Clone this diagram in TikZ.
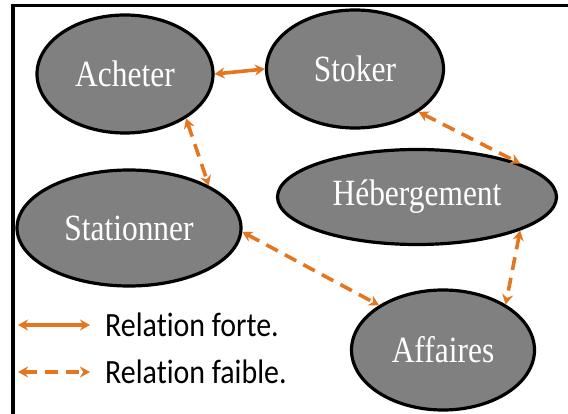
\documentclass[tikz,border=0pt]{standalone}
\usepackage{fontspec}
\setmainfont{Liberation Serif}
\newfontfamily\legfont[Ligatures=NoCommon]{Carlito}
\usetikzlibrary{shapes.geometric, arrows.meta, positioning}
\definecolor{relorange}{RGB}{228,118,32}
\definecolor{actgray}{RGB}{128,128,128}
\newcommand{\actlabel}[1]{\scalebox{0.85}[1]{#1}}
\newcommand{\leglabel}[1]{\scalebox{0.88}[1]{#1}}

\begin{document}
\begin{tikzpicture}[x=1pt, y=-1pt, >={Stealth[length=10pt,width=11pt]},
    act/.style={ellipse, draw=black, line width=3.2pt, fill=actgray, inner sep=0pt,
                text=white, font=\fontsize{37}{37}\selectfont},
    forte/.style={<->, draw=relorange, line width=3.6pt},
    faible/.style={forte, dash pattern=on 13pt off 8pt},
    legtext/.style={anchor=west, inner sep=0pt, font=\legfont\fontsize{34}{34}\selectfont}]
    \useasboundingbox (0,0) rectangle (568,414);
    % cadre
    \draw[line width=3.5pt] (13,414) -- (13,5.5) -- (568,5.5);

    \node[act, minimum width=176pt, minimum height=118pt] (ach) at (125,74) {\actlabel{Acheter}};
    \node[act, minimum width=177pt, minimum height=118pt] (sto) at (355,69) {\actlabel{Stoker}};
    \node[act, minimum width=279pt, minimum height=95pt] (heb) at (417,197) {\actlabel{Hébergement}};
    \node[act, minimum width=224pt, minimum height=116pt] (sta) at (129,228) {\actlabel{Stationner}};
    \node[act, minimum width=183pt, minimum height=120pt] (aff) at (443,350) {\actlabel{Affaires}};

    \draw[forte] (ach.east) -- (sto.west);
    \draw[faible] (ach.-36) -- (sta.28);
    \draw[faible] (sto.-34) -- (heb.18);
    \draw[faible] (sta.-2) -- (aff.145);
    \draw[faible] (heb.-18) -- (aff.36);

    % legende
    \coordinate (lf1) at (18,325);
    \coordinate (lf2) at (90,325);
    \coordinate (lw1) at (18,372);
    \coordinate (lw2) at (90,372);
    \draw[forte] (lf1) -- (lf2);
    \draw[faible] (lw1) -- (lw2);
    \node[legtext] (lfort) at (105,325) {\leglabel{Relation forte.}};
    \node[legtext] (lfaib) at (105,372) {\leglabel{Relation faible.}};
\end{tikzpicture}
\end{document}
